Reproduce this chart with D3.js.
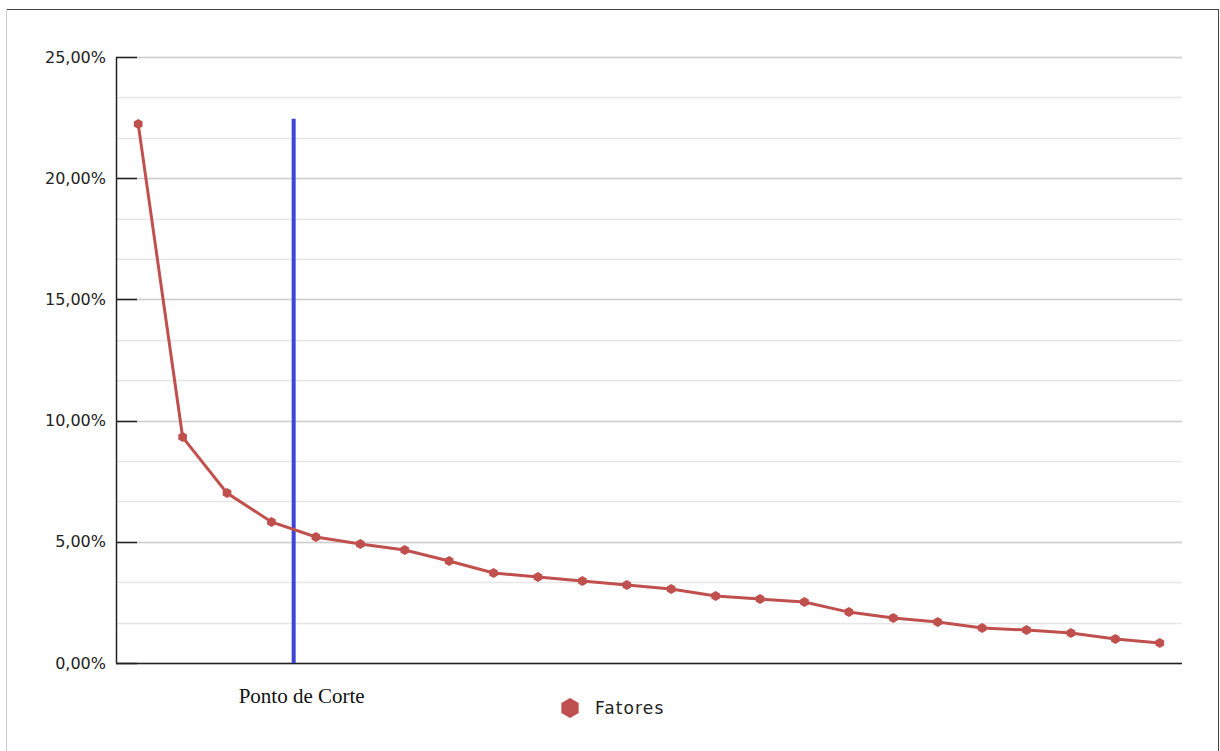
<!DOCTYPE html>
<html><head><meta charset="utf-8">
<script src="https://cdn.jsdelivr.net/npm/d3@7"></script>
<style>body{margin:0;background:#fff}svg{display:block}</style>
</head><body>
<svg id="c" width="1220" height="751"></svg>
<script>
const categories = d3.range(1, 25).map(String);
const values = [22.24, 9.32, 7.01, 5.82, 5.2, 4.91, 4.66, 4.21, 3.71, 3.55, 3.38, 3.22, 3.05, 2.76, 2.64, 2.52, 2.10, 1.86, 1.69, 1.44, 1.36, 1.24, 0.99, 0.83];
const majorTicks = [0, 5, 10, 15, 20, 25];
const minorTicks = d3.range(0, 25.001, 5/3);
const cutIndex = 3.5; // between factor 4 and 5 (in band units)
const cutTop = 22.45;
const seriesName = "Fatores";
const cutLabel = "Ponto de Corte";

const svg = d3.select("#c");
// frame
svg.append("line").attr("x1",6).attr("x2",1219).attr("y1",9.5).attr("y2",9.5).attr("stroke","#444");
svg.append("line").attr("x1",6.5).attr("x2",6.5).attr("y1",9).attr("y2",751).attr("stroke","#ccc");
svg.append("line").attr("x1",1218.5).attr("x2",1218.5).attr("y1",9).attr("y2",751).attr("stroke","#444");

const L=116, R=1182, T=57, B=663;
const x = d3.scaleBand().domain(categories).range([L,R]);
const y = d3.scaleLinear().domain([0,25]).range([B,T]);
const cx = i => x(categories[i]) + x.bandwidth()/2;

svg.append("g").selectAll("line").data(minorTicks).join("line")
  .attr("x1",L).attr("x2",R).attr("y1",d=>Math.round(y(d))+0.5).attr("y2",d=>Math.round(y(d))+0.5)
  .attr("stroke","#e6e6e6").attr("stroke-width",1.5);
svg.append("g").selectAll("line").data(majorTicks).join("line")
  .attr("x1",L).attr("x2",R).attr("y1",d=>Math.round(y(d))+0.5).attr("y2",d=>Math.round(y(d))+0.5)
  .attr("stroke","#cfcfcf").attr("stroke-width",1.5);

const fmt = d => d.toFixed(2).replace(".", ",") + "%";
const ya = svg.append("g").attr("transform",`translate(${L},0)`)
  .call(d3.axisLeft(y).tickValues(majorTicks).tickFormat(fmt).tickSize(0).tickPadding(10));
ya.select(".domain").remove();
ya.selectAll("text").attr("font-family","DejaVu Sans, Verdana, sans-serif").attr("font-size","16px").attr("fill","#222");
// tick marks into plot
svg.append("g").selectAll("line").data(majorTicks).join("line")
  .attr("x1",L).attr("x2",L+21).attr("y1",d=>Math.round(y(d))+0.5).attr("y2",d=>Math.round(y(d))+0.5)
  .attr("stroke","#222").attr("stroke-width",1.5);
// axes lines
svg.append("line").attr("x1",L+0.5).attr("x2",L+0.5).attr("y1",T).attr("y2",B+0.5).attr("stroke","#222").attr("stroke-width",1.5);
svg.append("line").attr("x1",L).attr("x2",R).attr("y1",B+0.5).attr("y2",B+0.5).attr("stroke","#222").attr("stroke-width",1.5);

// cut line
const cutX = x(categories[0]) + x.bandwidth()*(cutIndex+0.5);
svg.append("line").attr("x1",cutX).attr("x2",cutX).attr("y1",y(cutTop)).attr("y2",B)
  .attr("stroke","#3d45d8").attr("stroke-width",4);
svg.append("text").attr("x",cutX+8).attr("y",703).attr("text-anchor","middle")
  .attr("font-family","Liberation Serif, Times New Roman, serif").attr("font-size","21px").attr("fill","#111").text(cutLabel);

// series
const col = "#c0504d";
svg.append("path").datum(values)
  .attr("d", d3.line().x((d,i)=>cx(i)).y(d=>y(d)))
  .attr("fill","none").attr("stroke",col).attr("stroke-width",3);
const hexType = r => ({draw(ctx){for(let k=0;k<6;k++){const a=Math.PI/3*k+Math.PI/6;const px=r*Math.cos(a),py=r*Math.sin(a);k?ctx.lineTo(px,py):ctx.moveTo(px,py);}ctx.closePath();}});
svg.append("g").selectAll("path").data(values).join("path")
  .attr("transform",(d,i)=>`translate(${cx(i)},${y(d)})`)
  .attr("d", d3.symbol().type(hexType(5))()).attr("fill",col);

// legend
svg.append("path").attr("transform","translate(570,708)").attr("d", d3.symbol().type(hexType(10))()).attr("fill",col);
svg.append("text").attr("x",595).attr("y",714).attr("font-family","DejaVu Sans, Verdana, sans-serif")
  .attr("font-size","17px").attr("letter-spacing","1.1px").attr("fill","#222").text(seriesName);
</script>
</body></html>
